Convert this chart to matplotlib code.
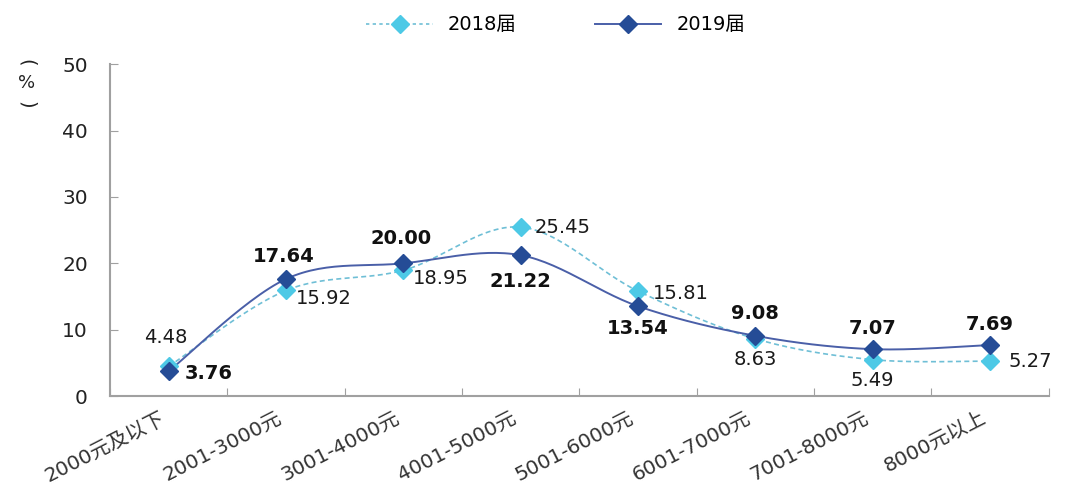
import matplotlib
matplotlib.use("Agg")

import matplotlib.pyplot as plt
import matplotlib.transforms as mtransforms
import numpy as np

plt.rcParams['font.family'] = ['DejaVu Sans', 'Noto Sans CJK SC']

categories = ["2000元及以下", "2001-3000元", "3001-4000元", "4001-5000元",
              "5001-6000元", "6001-7000元", "7001-8000元", "8000元以上"]
values_2018 = [4.48, 15.92, 18.95, 25.45, 15.81, 8.63, 5.49, 5.27]
values_2019 = [3.76, 17.64, 20.00, 21.22, 13.54, 9.08, 7.07, 7.69]

# label placement: (dx, dy) in points from marker
offsets_2018 = [(-2, 21), (27, -6), (27, -6), (30, 0), (31, -2), (0, -15), (0, -15), (29, 0)]
offsets_2019 = [(29, -2), (-2, 16), (-2, 18), (0, -19), (0, -16), (0, 16), (0, 15), (0, 15)]


def smooth(xs, ys, n=30):
    # catmull-rom style smoothing like office charts
    px, py = [], []
    m = len(xs)
    for i in range(m - 1):
        x0, y0 = xs[max(i - 1, 0)], ys[max(i - 1, 0)]
        x1, y1 = xs[i], ys[i]
        x2, y2 = xs[i + 1], ys[i + 1]
        x3, y3 = xs[min(i + 2, m - 1)], ys[min(i + 2, m - 1)]
        c1 = (x1 + (x2 - x0) / 6, y1 + (y2 - y0) / 6)
        c2 = (x2 - (x3 - x1) / 6, y2 - (y3 - y1) / 6)
        t = np.linspace(0, 1, n)
        bx = (1-t)**3*x1 + 3*(1-t)**2*t*c1[0] + 3*(1-t)*t**2*c2[0] + t**3*x2
        by = (1-t)**3*y1 + 3*(1-t)**2*t*c1[1] + 3*(1-t)*t**2*c2[1] + t**3*y2
        px.extend(bx)
        py.extend(by)
    return np.array(px), np.array(py)


fig = plt.figure(figsize=(10.69, 4.97), dpi=100)
ax = fig.add_axes([0.103, 0.203, 0.878, 0.668])

x = np.arange(len(categories))
c18_line, c18_mark = "#6FBFD6", "#4DC9E6"
c19_line, c19_mark = "#4A5FA8", "#254C96"

sx, sy = smooth(x, values_2018)
ax.plot(sx, sy, color=c18_line, lw=1.2, ls=(0, (3, 2)), zorder=2)
sx, sy = smooth(x, values_2019)
ax.plot(sx, sy, color=c19_line, lw=1.4, zorder=3)

ax.plot(x, values_2018, ls="none", marker="D", ms=9, color=c18_mark, zorder=4)
ax.plot(x, values_2019, ls="none", marker="D", ms=9, color=c19_mark, zorder=5)

# legend proxies
h1, = ax.plot([], [], color=c18_line, lw=1.2, ls=(0, (2, 2)), marker="D", ms=9,
              markerfacecolor=c18_mark, markeredgecolor=c18_mark)
h2, = ax.plot([], [], color=c19_line, lw=1.4, marker="D", ms=9,
              markerfacecolor=c19_mark, markeredgecolor=c19_mark)
fig.legend([h1, h2], ["2018届", "2019届"], loc="center", bbox_to_anchor=(0.52, 0.95),
           ncol=2, frameon=False, handlelength=3.4, columnspacing=4,
           prop={'family': ['DejaVu Sans', 'Noto Sans CJK SC'], 'size': 14})

for i, v in enumerate(values_2018):
    ax.annotate(f"{v:.2f}", (x[i], v), xytext=offsets_2018[i], textcoords="offset points",
                ha="center", va="center", fontsize=14, color="#1a1a1a")
for i, v in enumerate(values_2019):
    ax.annotate(f"{v:.2f}", (x[i], v), xytext=offsets_2019[i], textcoords="offset points",
                ha="center", va="center", fontsize=14, color="#111111", fontweight="bold")

ax.set_xlim(-0.5, len(categories) - 0.5)
ax.set_ylim(0, 50)
ax.set_yticks([0, 10, 20, 30, 40, 50])
ax.tick_params(axis="y", direction="in", length=6, color="#A0A0A0", labelsize=14.5, pad=16,
               labelcolor="#222222")
ax.set_xticks(np.arange(len(categories) + 1) - 0.5)
ax.set_xticks(x, minor=True)
ax.tick_params(axis="x", which="major", direction="in", length=6, color="#A0A0A0", labelbottom=False)
ax.tick_params(axis="x", which="minor", length=0, pad=9)
ax.set_xticklabels(categories, minor=True, rotation=27, ha="right", rotation_mode="anchor",
                   fontsize=14.5, color="#333333")
shift = mtransforms.ScaledTranslation(-7 / 72, 0, fig.dpi_scale_trans)
for lab in ax.get_xticklabels(minor=True):
    lab.set_transform(lab.get_transform() + shift)

for s in ["top", "right"]:
    ax.spines[s].set_visible(False)
for s in ["left", "bottom"]:
    ax.spines[s].set_color("#A0A0A0")
    ax.spines[s].set_linewidth(1.5)

# vertical unit label: arcs above and below the percent sign
fig.text(0.025, 0.874, "(", rotation=-90, ha="center", va="center", fontsize=14, color="#222222")
fig.text(0.025, 0.833, "%", ha="center", va="center", fontsize=13, color="#222222")
fig.text(0.025, 0.790, ")", rotation=-90, ha="center", va="center", fontsize=14, color="#222222")

fig.savefig("out.png", dpi=100)
